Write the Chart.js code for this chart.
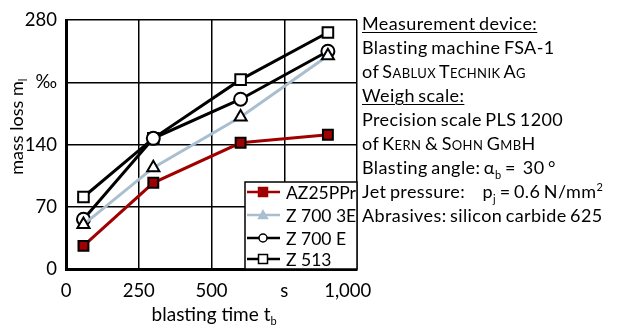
<!DOCTYPE html>
<html>
<head>
<meta charset="utf-8">
<script src="https://cdn.jsdelivr.net/npm/chart.js@4"></script>
<style>
  body { margin: 0; background: #fff; }
  #wrap { position: relative; width: 628px; height: 329px; }
  #notes {
    position: absolute; left: 362px; top: 11px;
    font-family: Lato, sans-serif; font-size: 18px; line-height: 24px; color: #000;
    letter-spacing: 0.4px; word-spacing: -1.5px;
    white-space: nowrap;
  }
  #notes u { text-decoration-thickness: 1px; text-underline-offset: 2px; }
  .sc { font-variant: small-caps; }
  sub, sup { font-size: 11px; line-height: 0; }
</style>
</head>
<body>
<div id="wrap">
  <canvas id="chart" width="628" height="329"></canvas>
  <div id="notes">
    <div><u>Measurement device:</u></div>
    <div>Blasting machine FSA-1</div>
    <div>of <span class="sc">Sablux Technik Ag</span></div>
    <div><u>Weigh scale:</u></div>
    <div>Precision scale PLS 1200</div>
    <div>of <span class="sc">Kern &amp; Sohn GmbH</span></div>
    <div>Blasting angle: α<sub>b</sub> = &nbsp;30 °</div>
    <div>Jet pressure: &nbsp;&nbsp;&nbsp; p<sub>j</sub> = 0.6 N/mm<sup>2</sup></div>
    <div>Abrasives: silicon carbide 625</div>
  </div>
</div>
<script>
// blasting time in s
const times = [60, 300, 600, 900];

const az25ppr = [26, 97, 142, 151];
const z7003e = [50, 114, 171, 240];
const z700e = [56, 147, 191, 245];
const z513 = [81, 147, 213, 266];

const seriesNames = ['AZ25PPr', 'Z 700 3E', 'Z 700 E', 'Z 513'];

const yTicks = { 0: '0', 70: '70', 140: '140', 210: '‰', 280: '280' };
// last label is pulled left a bit, as in the original
const xTicks = { 0: '0', 250: '250', 500: '500', 750: 's', 1000: '1,000\u2002\u2002' };

const RED = '#a00000';
const BLUE = '#a9bfcf';
const FONT = 'Lato, sans-serif';

function pts(vals) {
  return vals.map((v, i) => ({ x: times[i], y: v }));
}

const styles = [
  { color: RED, marker: 'rect', fill: RED, r: 7, lr: 4.5, lfill: RED, lborder: RED },
  { color: BLUE, marker: 'triangle', fill: '#fff', r: 7, lr: 4.5, lfill: BLUE, lborder: BLUE },
  { color: '#000', marker: 'circle', fill: '#fff', r: 6.5, lr: 4, lfill: '#fff', lborder: '#000' },
  { color: '#000', marker: 'rect', fill: '#fff', r: 7.5, lr: 4.5, lfill: '#fff', lborder: '#000' }
];

const allData = [az25ppr, z7003e, z700e, z513];

// legend box + axis titles drawn by hand
const extras = {
  id: 'extras',
  afterDraw(chart) {
    const ctx = chart.ctx;
    const area = chart.chartArea;
    ctx.save();

    // legend
    const lx = 245, ly = 182, lw = area.right - lx, lh = area.bottom - ly;
    ctx.fillStyle = '#fff';
    ctx.fillRect(lx, ly, lw, lh);
    ctx.strokeStyle = '#000';
    ctx.lineWidth = 1.5;
    ctx.strokeRect(lx, ly, lw, lh);
    const rows = [192, 215, 238, 259];
    ctx.font = '17.5px ' + FONT;
    ctx.textBaseline = 'middle';
    styles.forEach((s, i) => {
      const y = rows[i];
      ctx.strokeStyle = s.lborder;
      ctx.lineWidth = 2.5;
      ctx.beginPath();
      ctx.moveTo(247, y);
      ctx.lineTo(280, y);
      ctx.stroke();
      ctx.fillStyle = s.lfill;
      ctx.strokeStyle = s.lborder;
      ctx.lineWidth = 1.5;
      ctx.beginPath();
      if (s.marker === 'circle') {
        ctx.arc(263, y, s.lr, 0, Math.PI * 2);
      } else if (s.marker === 'rect') {
        ctx.rect(263 - s.lr, y - s.lr, s.lr * 2, s.lr * 2);
      } else {
        ctx.moveTo(263, y - s.lr);
        ctx.lineTo(263 + s.lr, y + s.lr * 0.8);
        ctx.lineTo(263 - s.lr, y + s.lr * 0.8);
        ctx.closePath();
      }
      ctx.fill();
      ctx.stroke();
      ctx.fillStyle = '#000';
      ctx.textAlign = 'left';
      ctx.fillText(seriesNames[i], 286, y + 1);
    });

    // x title
    ctx.fillStyle = '#000';
    ctx.font = '19px ' + FONT;
    ctx.textAlign = 'left';
    ctx.textBaseline = 'alphabetic';
    const xt = 'blasting time t';
    const w1 = ctx.measureText(xt).width;
    const x0 = 214 - (w1 + 6) / 2;
    ctx.fillText(xt, x0, 321);
    ctx.font = '11px ' + FONT;
    ctx.fillText('b', x0 + w1, 325);

    // y title
    ctx.translate(18, 126);
    ctx.rotate(-Math.PI / 2);
    ctx.font = '18px ' + FONT;
    const yt = 'mass loss m';
    const w2 = ctx.measureText(yt).width;
    const y0 = -(w2 + 4) / 2;
    ctx.fillText(yt, y0, 5);
    ctx.font = '11px ' + FONT;
    ctx.fillText('l', y0 + w2, 9);
    ctx.restore();
  }
};

new Chart(document.getElementById('chart'), {
  type: 'line',
  data: {
    datasets: allData.map((vals, i) => ({
      label: seriesNames[i],
      data: pts(vals),
      borderColor: styles[i].color,
      borderWidth: 3,
      pointStyle: styles[i].marker,
      pointRadius: styles[i].r,
      pointBackgroundColor: styles[i].fill,
      pointBorderColor: '#000',
      pointBorderWidth: 2,
      tension: 0,
      clip: false
    }))
  },
  options: {
    responsive: false,
    animation: false,
    layout: { padding: { left: 0, right: 271, top: 20, bottom: 0 } },
    plugins: { legend: { display: false }, tooltip: { enabled: false } },
    scales: {
      x: {
        type: 'linear',
        min: 0, max: 1000,
        afterFit: s => { s.height = 60; },
        afterBuildTicks: s => { s.ticks = Object.keys(xTicks).map(v => ({ value: +v })); },
        grid: { color: '#000', lineWidth: 1.5, drawTicks: false },
        border: { color: '#000', width: 3 },
        ticks: {
          color: '#000', padding: 11, maxRotation: 0,
          font: { family: FONT, size: 18.5 },
          callback: v => xTicks[v]
        }
      },
      y: {
        min: 0, max: 280,
        afterFit: s => { s.width = 66; },
        afterBuildTicks: s => { s.ticks = Object.keys(yTicks).map(v => ({ value: +v })); },
        grid: { color: '#000', lineWidth: 1.5, drawTicks: false },
        border: { color: '#000', width: 3 },
        ticks: {
          color: '#000', padding: 9,
          font: { family: FONT, size: 18.5 },
          callback: v => yTicks[v]
        }
      }
    }
  },
  plugins: [extras]
});
</script>
</body>
</html>
